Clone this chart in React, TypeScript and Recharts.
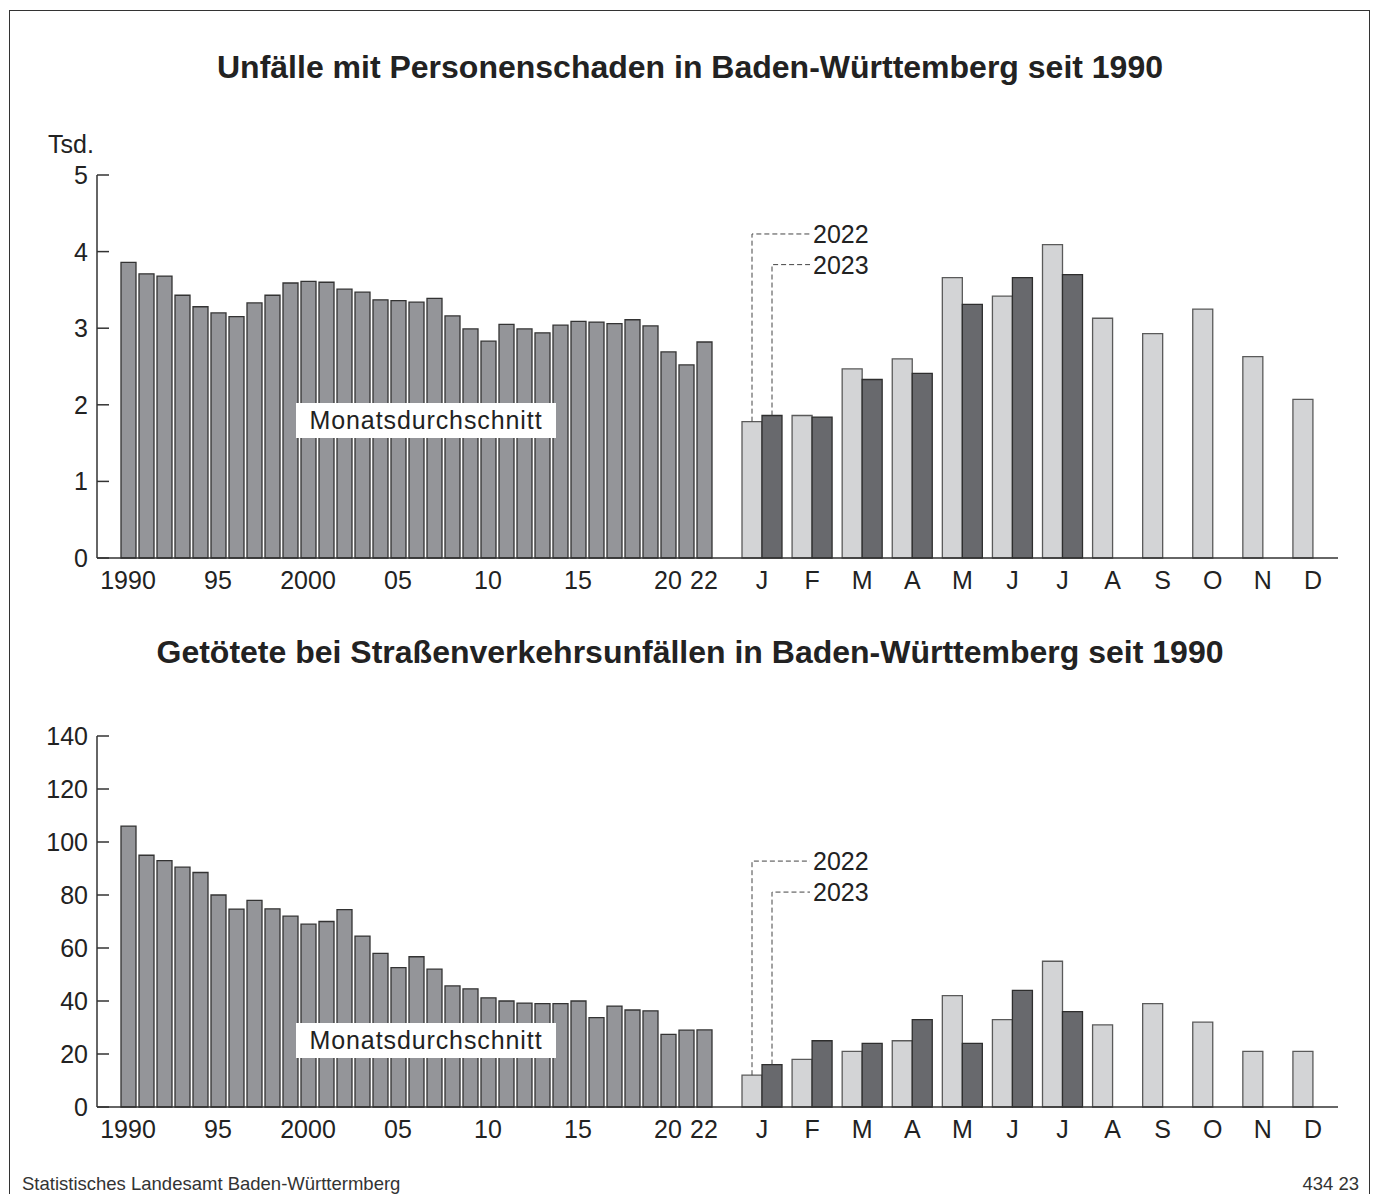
import React from 'react';
import { BarChart, Bar, XAxis, YAxis, LabelList } from 'recharts';

const FONT = '"Liberation Sans", Arial, Helvetica, sans-serif';
const INK = '#222222';

// Jahre 1990 bis 2022
const YEARS = [
  '1990', '1991', '1992', '1993', '1994', '1995', '1996', '1997', '1998', '1999',
  '2000', '2001', '2002', '2003', '2004', '2005', '2006', '2007', '2008', '2009',
  '2010', '2011', '2012', '2013', '2014', '2015', '2016', '2017', '2018', '2019',
  '2020', '2021', '2022'
];
const YEAR_LABELS: Record<string, string> = {
  '1990': '1990', '1995': '95', '2000': '2000', '2005': '05',
  '2010': '10', '2015': '15', '2020': '20', '2022': '22'
};

const MONTH_KEYS = ['jan', 'feb', 'mar', 'apr', 'may', 'jun', 'jul', 'aug', 'sep', 'oct', 'nov', 'dec'];
const MONTH_LABELS = ['J', 'F', 'M', 'A', 'M', 'J', 'J', 'A', 'S', 'O', 'N', 'D'];

// Unfälle mit Personenschaden, Monatsdurchschnitt in Tsd.
const ACCIDENTS_YEARLY = [
  3.86, 3.71, 3.68, 3.43, 3.28, 3.20, 3.15, 3.33, 3.43, 3.59,
  3.61, 3.60, 3.51, 3.47, 3.37, 3.36, 3.34, 3.39, 3.16, 2.99,
  2.83, 3.05, 2.99, 2.94, 3.04, 3.09, 3.08, 3.06, 3.11, 3.03,
  2.69, 2.52, 2.82
];
const ACCIDENTS_2022 = [1.78, 1.86, 2.47, 2.60, 3.66, 3.42, 4.09, 3.13, 2.93, 3.25, 2.63, 2.07];
const ACCIDENTS_2023 = [1.86, 1.84, 2.33, 2.41, 3.31, 3.66, 3.70, null, null, null, null, null];
const ACCIDENTS_TICKS = [0, 1, 2, 3, 4, 5];

// Getötete, Monatsdurchschnitt
const KILLED_YEARLY = [
  106, 95, 93, 90.5, 88.5, 80, 74.7, 78, 74.8, 72,
  69, 70, 74.5, 64.5, 58, 52.6, 56.7, 52, 45.7, 44.6,
  41.2, 40, 39.2, 39, 39, 40, 33.7, 38.1, 36.6, 36.3,
  27.4, 29, 29.1
];
const KILLED_2022 = [12, 18, 21, 25, 42, 33, 55, 31, 39, 32, 21, 21];
const KILLED_2023 = [16, 25, 24, 33, 24, 44, 36, null, null, null, null, null];
const KILLED_TICKS = [0, 20, 40, 60, 80, 100, 120, 140];

const YTick = ({ x, y, payload }: any) => (
  <g>
    <line x1={x + 9} x2={x + 21} y1={y} y2={y} stroke="#333" strokeWidth={1.5} />
    <text x={x} y={y} dy="0.36em" textAnchor="end" fontSize={25} fontFamily={FONT} fill={INK}>
      {payload.value}
    </text>
  </g>
);

const YearTick = ({ x, y, payload }: any) => {
  const label = YEAR_LABELS[payload.value];
  if (!label) return null;
  return (
    <text x={x} y={y} dy="0.71em" textAnchor="middle" fontSize={25} fontFamily={FONT} fill={INK}>
      {label}
    </text>
  );
};

const MonthTick = ({ x, y, index }: any) => (
  <text x={x} y={y} dy="0.71em" textAnchor="middle" fontSize={25} fontFamily={FONT} fill={INK}>
    {MONTH_LABELS[index]}
  </text>
);

// gestrichelte Führungslinie vom ersten Balken zur Jahreslegende
const makeLeader = (text: string, level: number, barValue: number, barIsLeft: boolean) => (props: any) => {
  if (props.index !== 0) return null;
  const vb = props.viewBox || {};
  const x = Number(props.x ?? vb.x);
  const y = Number(props.y ?? vb.y);
  const w = Number(props.width ?? vb.width);
  const h = Number(props.height ?? vb.height);
  const base = y + h;
  const targetY = base - (level * h) / barValue;
  const cx = x + w / 2;
  const center = barIsLeft ? x + w : x;
  return (
    <g>
      <path
        d={`M${cx},${y} V${targetY} H${center + 48}`}
        fill="none"
        stroke="#444"
        strokeWidth={1}
        strokeDasharray="5 3"
      />
      <text x={center + 51} y={targetY} dy="0.36em" fontSize={25} fontFamily={FONT} fill={INK}>
        {text}
      </text>
    </g>
  );
};

interface PanelProps {
  top: number;
  plotHeight: number;
  yMax: number;
  yTicks: number[];
  yearly: number[];
  m22: number[];
  m23: (number | null)[];
  level22: number;
  level23: number;
}

const Panel: React.FC<PanelProps> = ({ top, plotHeight, yMax, yTicks, yearly, m22, m23, level22, level23 }) => {
  const height = 25 + plotHeight + 40;
  const yearData = YEARS.map((year, i) => ({ year, value: yearly[i] }));
  const monthData = MONTH_KEYS.map((month, i) => ({ month, y2022: m22[i], y2023: m23[i] }));
  const axisLine = { stroke: '#333', strokeWidth: 1.5 };

  return (
    <>
      <div style={{ position: 'absolute', left: 0, top }}>
        <BarChart width={725} height={height} data={yearData} margin={{ top: 25, right: 0, left: 37, bottom: 0 }}>
          <XAxis
            dataKey="year"
            interval={0}
            padding={{ left: 22, right: 12 }}
            axisLine={axisLine}
            tickLine={false}
            tickSize={0}
            tickMargin={13}
            height={40}
            tick={<YearTick />}
          />
          <YAxis
            width={60}
            domain={[0, yMax]}
            ticks={yTicks}
            axisLine={axisLine}
            tickLine={false}
            tickSize={0}
            tickMargin={9}
            tick={<YTick />}
          />
          <Bar dataKey="value" barSize={15} fill="#949599" stroke="#333" strokeWidth={1.3} isAnimationActive={false} />
        </BarChart>
      </div>
      <div style={{ position: 'absolute', left: 725, top }}>
        <BarChart width={613} height={height} data={monthData} barGap={0} margin={{ top: 25, right: 0, left: 0, bottom: 0 }}>
          <XAxis
            dataKey="month"
            interval={0}
            padding={{ left: 12, right: 0 }}
            axisLine={axisLine}
            tickLine={false}
            tickSize={0}
            tickMargin={13}
            height={40}
            tick={<MonthTick />}
          />
          <YAxis hide domain={[0, yMax]} ticks={yTicks} />
          <Bar dataKey="y2022" barSize={20} fill="#d3d4d6" stroke="#5a5a5a" strokeWidth={1.3} isAnimationActive={false}>
            <LabelList dataKey="y2022" content={makeLeader('2022', level22, m22[0], true)} />
          </Bar>
          <Bar dataKey="y2023" barSize={20} fill="#68696d" stroke="#2e2e2e" strokeWidth={1.3} isAnimationActive={false}>
            <LabelList dataKey="y2023" content={makeLeader('2023', level23, m23[0] as number, false)} />
          </Bar>
        </BarChart>
      </div>
    </>
  );
};

const titleStyle: React.CSSProperties = {
  position: 'absolute',
  left: 10,
  width: 1360,
  textAlign: 'center',
  fontFamily: FONT,
  fontWeight: 'bold',
  fontSize: 32,
  lineHeight: '40px',
  color: INK
};

const boxStyle: React.CSSProperties = {
  position: 'absolute',
  left: 296,
  width: 260,
  height: 35,
  background: '#fff',
  fontFamily: FONT,
  fontSize: 25,
  lineHeight: '35px',
  letterSpacing: 0.9,
  textAlign: 'center',
  color: INK
};

export default function App() {
  return (
    <div style={{ position: 'relative', width: 1376, height: 1194, overflow: 'hidden', background: '#fff' }}>
      <style>{'body{margin:0}'}</style>
      <div
        style={{
          position: 'absolute',
          left: 9,
          top: 10,
          width: 1359,
          height: 1200,
          borderLeft: '1.5px solid #333',
          borderTop: '1.5px solid #333',
          borderRight: '1.5px solid #333'
        }}
      />
      <div style={{ ...titleStyle, top: 47 }}>Unfälle mit Personenschaden in Baden-Württemberg seit 1990</div>
      <div style={{ position: 'absolute', left: 48, top: 130, fontFamily: FONT, fontSize: 25, lineHeight: '28px', color: INK }}>
        Tsd.
      </div>
      <Panel
        top={150}
        plotHeight={383}
        yMax={5}
        yTicks={ACCIDENTS_TICKS}
        yearly={ACCIDENTS_YEARLY}
        m22={ACCIDENTS_2022}
        m23={ACCIDENTS_2023}
        level22={4.23}
        level23={3.83}
      />
      <div style={{ ...boxStyle, top: 403 }}>Monatsdurchschnitt</div>

      <div style={{ ...titleStyle, top: 632 }}>Getötete bei Straßenverkehrsunfällen in Baden-Württemberg seit 1990</div>
      <Panel
        top={711}
        plotHeight={371}
        yMax={140}
        yTicks={KILLED_TICKS}
        yearly={KILLED_YEARLY}
        m22={KILLED_2022}
        m23={KILLED_2023}
        level22={92.8}
        level23={81.1}
      />
      <div style={{ ...boxStyle, top: 1023 }}>Monatsdurchschnitt</div>

      <div style={{ position: 'absolute', left: 22, top: 1174, fontFamily: FONT, fontSize: 18.5, lineHeight: '20px', color: '#333' }}>
        Statistisches Landesamt Baden-Württermberg
      </div>
      <div style={{ position: 'absolute', right: 17, top: 1174, fontFamily: FONT, fontSize: 18.5, lineHeight: '20px', color: '#333' }}>
        434 23
      </div>
    </div>
  );
}
